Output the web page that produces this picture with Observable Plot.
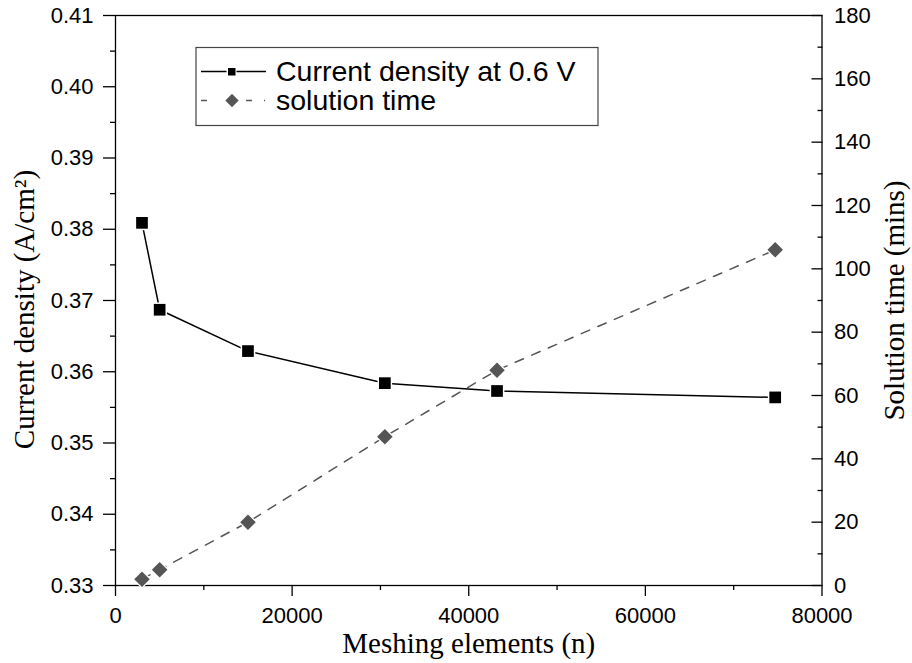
<!DOCTYPE html>
<html>
<head>
<meta charset="utf-8">
<script src="https://cdn.jsdelivr.net/npm/d3@7"></script>
<script src="https://cdn.jsdelivr.net/npm/@observablehq/plot@0.6"></script>
<style>
  html, body { margin: 0; padding: 0; background: #fff; }
</style>
</head>
<body>
<div id="chart"></div>
<script>
// Mesh-independence study: current density and solution time vs. number of elements
const meshElements   = [3000, 5000, 15000, 30500, 43200, 74700];
const currentDensity = [0.3809, 0.3687, 0.3629, 0.3584, 0.3573, 0.3564]; // A/cm²
const solutionTime   = [2, 5, 20, 47, 68, 106];                          // mins

// Axis ticks
const xTicks        = [0, 20000, 40000, 60000, 80000];
const xMinorTicks   = [10000, 30000, 50000, 70000];
const densityTicks  = [0.33, 0.34, 0.35, 0.36, 0.37, 0.38, 0.39, 0.40, 0.41];
const densityMinor  = [0.335, 0.345, 0.355, 0.365, 0.375, 0.385, 0.395, 0.405];
const timeTicks     = [0, 20, 40, 60, 80, 100, 120, 140, 160, 180];
const timeMinor     = [10, 30, 50, 70, 90, 110, 130, 150, 170];

const densityDomain = [0.33, 0.41];
const timeDomain    = [0, 180];

// Map the right-hand (time) axis onto the shared y scale
const timeToY = t => densityDomain[0] + (t - timeDomain[0]) / (timeDomain[1] - timeDomain[0]) * (densityDomain[1] - densityDomain[0]);
const yToTime = v => Math.round(timeDomain[0] + (v - densityDomain[0]) / (densityDomain[1] - densityDomain[0]) * (timeDomain[1] - timeDomain[0]));

const densityRows = meshElements.map((n, i) => ({n, v: currentDensity[i]}));
const timeRows    = meshElements.map((n, i) => ({n, t: solutionTime[i]}));

const SANS  = "'Liberation Sans', Arial, sans-serif";
const SERIF = "'Liberation Serif', 'Times New Roman', serif";
const GREY  = "#555555";

const chart = Plot.plot({
  width: 912,
  height: 663,
  marginLeft: 115,
  marginRight: 90.5,
  marginTop: 15,
  marginBottom: 78,
  style: {fontFamily: SANS, fontSize: "22px", color: "black", background: "white"},
  x: {domain: [0, 80000]},
  y: {domain: densityDomain},
  marks: [
    // bottom axis
    Plot.axisX(xTicks, {tickSize: 11, tickPadding: 11, strokeWidth: 1.3, fontSize: 22, tickFormat: d => String(d), label: null}),
    Plot.axisX(xMinorTicks, {tickSize: 5, strokeWidth: 1.3, tickFormat: () => "", label: null}),
    // left axis
    Plot.axisY(densityTicks, {anchor: "left", tickSize: 12, tickPadding: 10, strokeWidth: 1.3, fontSize: 22, tickFormat: d3.format(".2f"), label: null}),
    Plot.axisY(densityMinor, {anchor: "left", tickSize: 5, strokeWidth: 1.3, tickFormat: () => "", label: null}),
    // right axis (ticks point inward)
    Plot.axisY(timeTicks.map(timeToY), {anchor: "right", tickSize: 11, dx: -11, strokeWidth: 1.3, tickFormat: () => "", label: null}),
    Plot.axisY(timeMinor.map(timeToY), {anchor: "right", tickSize: 5, dx: -5, strokeWidth: 1.3, tickFormat: () => "", label: null}),
    Plot.axisY(timeTicks.map(timeToY), {anchor: "right", tickSize: 0, tickPadding: 12, fontSize: 22, tickFormat: v => String(yToTime(v)), label: null}),
    Plot.frame({stroke: "black", strokeWidth: 1.3}),

    // series lines
    Plot.line(timeRows, {x: "n", y: d => timeToY(d.t), stroke: GREY, strokeWidth: 1.5, strokeDasharray: "9,9"}),
    Plot.line(densityRows, {x: "n", y: "v", stroke: "black", strokeWidth: 1.5}),

    // white halos so lines stop short of the markers
    Plot.dot(timeRows, {x: "n", y: d => timeToY(d.t), symbol: "diamond2", r: 8.6, fill: "white"}),
    Plot.dot(densityRows, {x: "n", y: "v", symbol: "square", r: 8.3, fill: "white"}),
    // markers
    Plot.dot(timeRows, {x: "n", y: d => timeToY(d.t), symbol: "diamond2", r: 7, fill: GREY}),
    Plot.dot(densityRows, {x: "n", y: "v", symbol: "square", r: 6.6, fill: "black"}),

    // axis titles
    Plot.text(["Meshing elements (n)"], {frameAnchor: "bottom", lineAnchor: "middle", textAnchor: "middle", dy: 58.5, fontFamily: SERIF, fontSize: 29, fill: "black"}),
    Plot.text(["Current density (A/cm\u00B2)"], {frameAnchor: "left", lineAnchor: "middle", textAnchor: "middle", dx: -91, dy: 9, rotate: -90, fontFamily: SERIF, fontSize: 29, fill: "black"}),
    Plot.text(["Solution time (mins)"], {frameAnchor: "right", lineAnchor: "middle", textAnchor: "middle", dx: 73, rotate: -90, fontFamily: SERIF, fontSize: 29, fill: "black"})
  ]
});

// Legend box inside the plot area
const svg = d3.select(chart);
const lg = svg.append("g").attr("font-family", SANS).attr("font-size", 28.5).attr("text-anchor", "start");
lg.append("rect").attr("x", 196).attr("y", 47.5).attr("width", 402).attr("height", 78)
  .attr("fill", "white").attr("stroke", "#444").attr("stroke-width", 1.2);
// row 1: current density
lg.append("line").attr("x1", 201).attr("x2", 266).attr("y1", 71.5).attr("y2", 71.5)
  .attr("stroke", "black").attr("stroke-width", 1.5);
lg.append("rect").attr("x", 226.5).attr("y", 66.5).attr("width", 10).attr("height", 10)
  .attr("fill", "white");
lg.append("rect").attr("x", 228).attr("y", 68).attr("width", 7.5).attr("height", 7.5)
  .attr("fill", "black");
lg.append("text").attr("x", 276).attr("y", 71.5).attr("dy", "0.35em").attr("fill", "black")
  .text("Current density at 0.6 V");
// row 2: solution time
lg.append("line").attr("x1", 201).attr("x2", 266).attr("y1", 100.5).attr("y2", 100.5)
  .attr("stroke", GREY).attr("stroke-width", 1.5).attr("stroke-dasharray", "6,39,6,12,1,20");
lg.append("path").attr("d", d3.symbol(d3.symbolDiamond2, 150)())
  .attr("transform", "translate(232,100.5)").attr("fill", GREY).attr("stroke", "white").attr("stroke-width", 1.5);
lg.append("text").attr("x", 276).attr("y", 100.5).attr("dy", "0.35em").attr("fill", "black")
  .text("solution time");

document.getElementById("chart").append(chart);
</script>
</body>
</html>
